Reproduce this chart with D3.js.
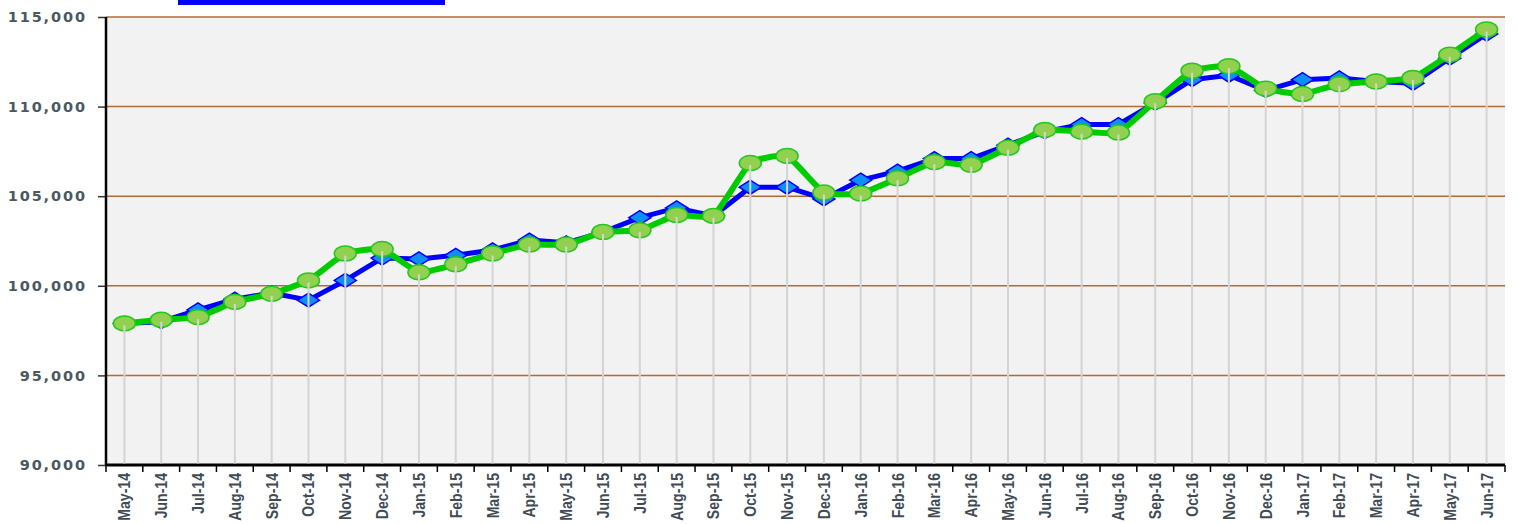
<!DOCTYPE html>
<html>
<head>
<meta charset="utf-8">
<script src="https://cdn.jsdelivr.net/npm/d3@7"></script>
<style>
  body { margin: 0; background: #fff; }
  svg { display: block; }
</style>
</head>
<body>
<svg id="chart" width="1518" height="524"></svg>
<script>
// months on the x axis
var months = ["May-14","Jun-14","Jul-14","Aug-14","Sep-14","Oct-14","Nov-14","Dec-14",
  "Jan-15","Feb-15","Mar-15","Apr-15","May-15","Jun-15","Jul-15","Aug-15","Sep-15","Oct-15","Nov-15","Dec-15",
  "Jan-16","Feb-16","Mar-16","Apr-16","May-16","Jun-16","Jul-16","Aug-16","Sep-16","Oct-16","Nov-16","Dec-16",
  "Jan-17","Feb-17","Mar-17","Apr-17","May-17","Jun-17"];

// blue series (diamonds)
var blueValues = [97900, 98000, 98650, 99250, 99600, 99200, 100300, 101550,
  101500, 101700, 102000, 102550, 102400, 103000, 103800, 104350, 103900, 105500, 105500, 104850,
  105900, 106400, 107100, 107100, 107850, 108600, 109000, 109000, 110200, 111500, 111750, 110900,
  111500, 111600, 111400, 111300, 112700, 114050];

// green series (circles)
var greenValues = [97900, 98100, 98250, 99100, 99550, 100300, 101800, 102050,
  100750, 101200, 101800, 102300, 102300, 103000, 103100, 103950, 103900, 106850, 107250, 105200,
  105150, 106000, 106900, 106750, 107700, 108700, 108600, 108550, 110300, 112000, 112250, 111000,
  110700, 111250, 111400, 111600, 112900, 114300];

var yTicks = [90000, 95000, 100000, 105000, 110000, 115000];

var margin = {top: 17, right: 13, bottom: 59, left: 106};
var width = 1518 - margin.left - margin.right,
    height = 524 - margin.top - margin.bottom;

var svg = d3.select("#chart");

// legend, cut off at the top
svg.append("rect")
    .attr("x", 178).attr("y", 0)
    .attr("width", 267).attr("height", 5)
    .style("fill", "#0000ff");

var g = svg.append("g")
    .attr("transform", "translate(" + margin.left + "," + margin.top + ")");

var x = d3.scaleBand().domain(months).range([0, width]);
var y = d3.scaleLinear().domain([90000, 115000]).range([height, 0]);

function cx(d, i){ return x(months[i]) + x.bandwidth() / 2; }

g.append("rect")
    .attr("width", width).attr("height", height)
    .style("fill", "#f2f2f2");

// horizontal grid
g.selectAll("line.grid")
    .data(yTicks.slice(1))
    .enter()
    .append("line")
    .attr("class", "grid")
    .attr("x1", 0).attr("x2", width)
    .attr("y1", function(d){ return y(d); })
    .attr("y2", function(d){ return y(d); })
    .style("stroke", "#b36a35")
    .style("stroke-width", 1.5);

// y axis
var yAxis = g.append("g")
    .call(d3.axisLeft(y).tickValues(yTicks).tickSize(8).tickPadding(11).tickFormat(d3.format(",")));
yAxis.select(".domain").remove();
yAxis.selectAll(".tick line").style("stroke", "#333").style("stroke-width", 1.5);
yAxis.selectAll("text")
    .style("font-family", "'DejaVu Sans', Verdana, sans-serif")
    .style("font-weight", "bold")
    .style("font-size", "14.5px")
    .style("letter-spacing", "1.9px")
    .style("fill", "#4b5862");

g.append("line")
    .attr("x1", 0).attr("x2", 0).attr("y1", 0).attr("y2", height)
    .style("stroke", "#000").style("stroke-width", 2.5);

// x axis with ticks at band edges
var xAxis = g.append("g")
    .attr("transform", "translate(0," + height + ")");
xAxis.append("line")
    .attr("x1", 0).attr("x2", width)
    .style("stroke", "#000").style("stroke-width", 3);
xAxis.selectAll("line.tick")
    .data(months)
    .enter()
    .append("line")
    .attr("class", "tick")
    .attr("x1", function(d){ return x(d); })
    .attr("x2", function(d){ return x(d); })
    .attr("y1", 0).attr("y2", 7)
    .style("stroke", "#000").style("stroke-width", 1.5);
xAxis.append("line")
    .attr("x1", width).attr("x2", width).attr("y1", 0).attr("y2", 7)
    .style("stroke", "#000").style("stroke-width", 1.5);
xAxis.selectAll("text")
    .data(months)
    .enter()
    .append("text")
    .text(function(d){ return d; })
    .attr("transform", function(d){
        return "translate(" + (x(d) + x.bandwidth() / 2 + 6) + ",8) rotate(-90) scale(0.88,1)";
    })
    .attr("text-anchor", "end")
    .style("font-family", "'Liberation Sans', Arial, sans-serif")
    .style("font-weight", "bold")
    .style("font-size", "16px")
    .style("fill", "#3f4c56");

// blue series
var blueLine = d3.line()
    .x(cx)
    .y(function(d){ return y(d); });

g.append("path")
    .datum(blueValues)
    .attr("d", blueLine)
    .style("fill", "none")
    .style("stroke", "#0000ff")
    .style("stroke-width", 5)
    .style("stroke-linejoin", "round");

g.selectAll("path.diamond")
    .data(blueValues)
    .enter()
    .append("path")
    .attr("class", "diamond")
    .attr("d", "M-11,0 L0,-7 L11,0 L0,7 Z")
    .attr("transform", function(d, i){ return "translate(" + cx(d, i) + "," + y(d) + ")"; })
    .style("fill", "#0f8ff5")
    .style("stroke", "#0000ff")
    .style("stroke-width", 1.5);

// green series
var greenLine = d3.line()
    .x(cx)
    .y(function(d){ return y(d); })
    .curve(d3.curveCardinal.tension(0.6));

g.append("path")
    .datum(greenValues)
    .attr("d", greenLine)
    .style("fill", "none")
    .style("stroke", "#00cc00")
    .style("stroke-width", 6)
    .style("stroke-linejoin", "round");

g.selectAll("ellipse.dot")
    .data(greenValues)
    .enter()
    .append("ellipse")
    .attr("class", "dot")
    .attr("cx", cx)
    .attr("cy", function(d){ return y(d); })
    .attr("rx", 11)
    .attr("ry", 7.5)
    .style("fill", "#92d050")
    .style("stroke", "#22c81e")
    .style("stroke-width", 1.5);

// drop lines
g.selectAll("line.drop")
    .data(greenValues)
    .enter()
    .append("line")
    .attr("class", "drop")
    .attr("x1", cx).attr("x2", cx)
    .attr("y1", function(d){ return y(d) + 2; })
    .attr("y2", height - 1.5)
    .style("stroke", "#d4d4d4")
    .style("stroke-width", 2);
</script>
</body>
</html>
